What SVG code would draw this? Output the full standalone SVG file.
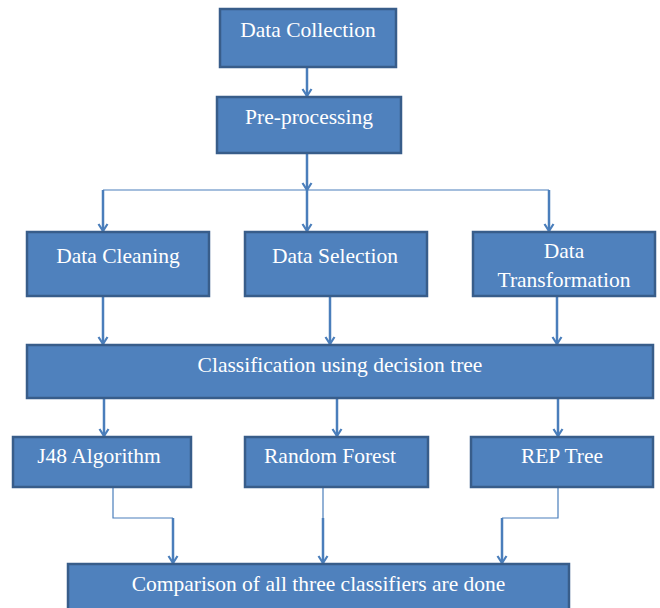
<svg xmlns="http://www.w3.org/2000/svg" width="660" height="608" viewBox="0 0 660 608">
<style>
.box{fill:#4f81bd;stroke:#385d8a;stroke-width:2.5}
.t{font-family:"Liberation Serif","Times New Roman",serif;font-size:21.5px;fill:#ffffff;text-anchor:middle}
.c{fill:none;stroke:#4a7ebb;stroke-width:2.5}
.thin{fill:none;stroke:#4a7ebb;stroke-width:1.2}
</style>
<defs>
<marker id="ah" markerUnits="userSpaceOnUse" markerWidth="12" markerHeight="12" viewBox="0 0 12 12" refX="10" refY="6" orient="auto">
<path d="M3,1.5 L10,6 L3,10.5" fill="none" stroke="#4a7ebb" stroke-width="2.2"/>
</marker>
</defs>
<rect width="660" height="608" fill="#ffffff"/>
<g id="connectors">
<path class="c" d="M307,67 V96" marker-end="url(#ah)"/>
<path class="c" d="M307,153 V190" marker-end="url(#ah)"/>
<path class="thin" d="M103,190 H549"/>
<path class="c" d="M103,190 V231" marker-end="url(#ah)"/>
<path class="c" d="M307,190 V231" marker-end="url(#ah)"/>
<path class="c" d="M549,190 V231" marker-end="url(#ah)"/>
<path class="c" d="M103,296 V344" marker-end="url(#ah)"/>
<path class="c" d="M330,296 V344" marker-end="url(#ah)"/>
<path class="c" d="M557,296 V344" marker-end="url(#ah)"/>
<path class="c" d="M104,398 V436" marker-end="url(#ah)"/>
<path class="c" d="M337,398 V436" marker-end="url(#ah)"/>
<path class="c" d="M558,398 V436" marker-end="url(#ah)"/>
<path class="thin" d="M113,487 V518 H173"/>
<path class="c" d="M173,518 V563" marker-end="url(#ah)"/>
<path class="thin" d="M323,487 V518"/>
<path class="c" d="M323,518 V563" marker-end="url(#ah)"/>
<path class="thin" d="M558,487 V518 H502"/>
<path class="c" d="M502,518 V563" marker-end="url(#ah)"/>
</g>
<g id="n-collection"><rect class="box" x="220" y="9" width="176" height="58"/><text class="t" x="308" y="37">Data Collection</text></g>
<g id="n-preprocessing"><rect class="box" x="217" y="97" width="184" height="56"/><text class="t" x="309" y="124">Pre-processing</text></g>
<g id="n-cleaning"><rect class="box" x="27" y="232" width="182" height="64"/><text class="t" x="118" y="263">Data Cleaning</text></g>
<g id="n-selection"><rect class="box" x="245" y="232" width="182" height="64"/><text class="t" x="335" y="263">Data Selection</text></g>
<g id="n-transformation"><rect class="box" x="473" y="232" width="182" height="64"/><text class="t" x="564" y="258">Data</text><text class="t" x="564" y="287">Transformation</text></g>
<g id="n-classification"><rect class="box" x="27" y="345" width="626" height="53"/><text class="t" x="340" y="372">Classification using decision tree</text></g>
<g id="n-j48"><rect class="box" x="13" y="437" width="178" height="50"/><text class="t" x="99" y="463">J48 Algorithm</text></g>
<g id="n-rf"><rect class="box" x="245" y="437" width="183" height="50"/><text class="t" x="330" y="463">Random Forest</text></g>
<g id="n-rep"><rect class="box" x="471" y="437" width="182" height="50"/><text class="t" x="562" y="463">REP Tree</text></g>
<g id="n-comparison"><rect class="box" x="68" y="564" width="501" height="56"/><text class="t" x="318.5" y="591">Comparison of all three classifiers are done</text></g>
</svg>
